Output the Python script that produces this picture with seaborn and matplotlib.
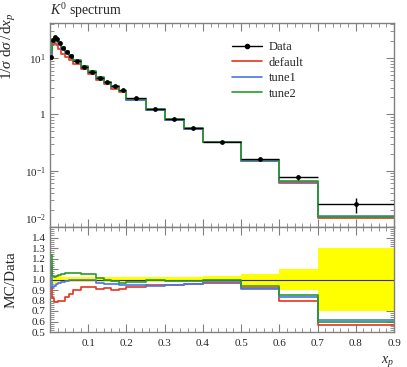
import numpy as np
import pandas as pd
import matplotlib
matplotlib.use("Agg")
import matplotlib.pyplot as plt
from matplotlib.ticker import MultipleLocator, FixedLocator, FuncFormatter, LogLocator, NullFormatter
from matplotlib.lines import Line2D
import seaborn as sns

# ---------------- data ----------------
bin_edges = [0.0, 0.005, 0.01, 0.015, 0.02, 0.03, 0.04, 0.05, 0.06, 0.08, 0.1, 0.12,
             0.14, 0.16, 0.18, 0.2, 0.25, 0.3, 0.35, 0.4, 0.5, 0.6, 0.7, 0.9]
data_vals = [10.5, 21.0, 23.5, 22.0, 18.5, 15.0, 12.6, 10.8, 8.9, 7.0, 5.6, 4.5,
             3.8, 3.2, 2.72, 1.92, 1.26, 0.84, 0.57, 0.33, 0.162, 0.077, 0.0254]
data_errs = [0.53, 0.84, 0.82, 0.66, 0.56, 0.38, 0.32, 0.27, 0.22, 0.175, 0.14, 0.09,
             0.076, 0.064, 0.054, 0.038, 0.025, 0.018, 0.014, 0.011, 0.0089, 0.0077, 0.0076]
default_vals = [9.77, 17.22, 18.57, 17.38, 14.8, 12.0, 10.46, 9.29, 8.01, 6.51, 5.21, 4.10,
                3.50, 2.88, 2.48, 1.79, 1.20, 0.80, 0.547, 0.320, 0.149, 0.0616, 0.01448]
tune1_vals = [11.76, 19.53, 22.09, 21.12, 17.95, 14.7, 12.47, 10.8, 8.9, 7.0, 5.6, 4.37,
              3.65, 3.07, 2.58, 1.82, 1.18, 0.80, 0.547, 0.323, 0.147, 0.0639, 0.0155]
tune2_vals = [12.92, 21.63, 23.97, 22.66, 19.24, 15.75, 13.36, 11.45, 9.43, 7.35, 5.88, 4.55,
              3.80, 3.14, 2.64, 1.88, 1.25, 0.83, 0.564, 0.327, 0.152, 0.0655, 0.0152]
series_names = ["default", "tune1", "tune2"]
series_colors = ["#e8341f", "#4676ee", "#2a9a2a"]

title_text = r"$K^0$ spectrum"
ylabel_top = r"$1/\sigma\ \mathrm{d}\sigma\,/\,\mathrm{d}x_p$"
ylabel_bot = "MC/Data"
xlabel_text = r"$x_p$"

# ---------------- style ----------------
sns.set_style("ticks")
plt.rcParams["font.family"] = ["Liberation Serif", "DejaVu Serif"]
plt.rcParams["mathtext.fontset"] = "custom"
plt.rcParams["mathtext.rm"] = "Liberation Serif"
plt.rcParams["mathtext.it"] = "Liberation Serif:italic"
plt.rcParams["mathtext.bf"] = "Liberation Serif:bold"

edges = np.array(bin_edges)
centers = 0.5 * (edges[:-1] + edges[1:])
halfw = 0.5 * (edges[1:] - edges[:-1])
data = np.array(data_vals)
derr = np.array(data_errs)
mcs = [np.array(default_vals), np.array(tune1_vals), np.array(tune2_vals)]

def stairs_frame(vals):
    return pd.DataFrame({"x": edges, "y": np.append(vals, vals[-1])})

W, H = 407, 367
fig = plt.figure(figsize=(W / 100, H / 100), dpi=100)
L, R = 50 / W, 394 / W
ax1 = fig.add_axes([L, 1 - 227 / H, R - L, (227 - 23) / H])
ax2 = fig.add_axes([L, 1 - 332 / H, R - L, (332 - 227) / H], sharex=ax1)

frame_col = "#808080"
for ax in (ax1, ax2):
    for s in ax.spines.values():
        s.set_color(frame_col)
        s.set_linewidth(1.0)
        s.set_visible(True)
    ax.tick_params(which="both", direction="in", top=True, right=True, color=frame_col,
                   labelsize=8, pad=3)
    ax.tick_params(which="major", length=6, width=0.8)
    ax.tick_params(which="minor", length=3, width=0.6)

# ---------------- upper panel ----------------
for vals, name, col in zip(mcs, series_names, series_colors):
    sns.lineplot(data=stairs_frame(vals), x="x", y="y", drawstyle="steps-post",
                 color=col, lw=1.2, ax=ax1, estimator=None, sort=False, legend=False)
ax1.errorbar(centers, data, xerr=halfw, yerr=derr, fmt="none", ecolor="black",
             elinewidth=1.0, capsize=0, zorder=5)
sns.scatterplot(x=centers, y=data, color="black", s=12, edgecolor="black",
                linewidth=0, ax=ax1, zorder=6, legend=False)
ax1.set_yscale("log")
ax1.set_xlim(0.0, 0.9)
ax1.set_ylim(0.01, 42)
ax1.yaxis.set_major_locator(FixedLocator([0.01, 0.1, 1, 10]))
ax1.yaxis.set_minor_locator(LogLocator(base=10, subs=np.arange(2, 10), numticks=20))
ax1.yaxis.set_minor_formatter(NullFormatter())

def logfmt(v, pos):
    e = int(round(np.log10(v)))
    if e == 0:
        return "1"
    return r"$10^{%d}$" % e
ax1.yaxis.set_major_formatter(FuncFormatter(logfmt))
ax1.tick_params(axis="x", labelbottom=False)
ax1.set_xlabel("")
ax1.set_ylabel("")
fig.text(18 / W, 1 - 13 / H, ylabel_top, rotation=90, rotation_mode="anchor",
         ha="right", va="bottom", fontsize=11)
ax1.set_title(title_text, loc="left", fontsize=10, pad=6)

handles = [Line2D([], [], color="black", marker="o", ms=3, lw=1.0)]
handles += [Line2D([], [], color=c, lw=1.2) for c in series_colors]
ax1.legend(handles, ["Data"] + series_names, loc="upper left",
           bbox_to_anchor=(0.515, 0.935), frameon=False, fontsize=9,
           handlelength=2.4, handletextpad=0.5, labelspacing=0.28, borderaxespad=0)

# ---------------- ratio panel ----------------
rel = derr / data
ax2.fill_between(edges, np.append(1 - rel, (1 - rel)[-1]), np.append(1 + rel, (1 + rel)[-1]),
                 step="post", color="#ffff00", lw=0, zorder=1)
sns.lineplot(data=stairs_frame(data / data), x="x", y="y", drawstyle="steps-post",
             color="#333333", lw=0.8, ax=ax2, estimator=None, sort=False, legend=False)
for vals, col in zip(mcs, series_colors):
    sns.lineplot(data=stairs_frame(vals / data), x="x", y="y", drawstyle="steps-post",
                 color=col, lw=1.2, ax=ax2, estimator=None, sort=False, legend=False)
ax2.set_ylim(0.5, 1.5)
ax2.yaxis.set_major_locator(FixedLocator(np.round(np.arange(0.5, 1.41, 0.1), 2)))
ax2.yaxis.set_minor_locator(MultipleLocator(0.02))
ax2.yaxis.set_major_formatter(FuncFormatter(lambda v, p: "%.1f" % v))
ax2.xaxis.set_major_locator(FixedLocator(np.round(np.arange(0.1, 0.91, 0.1), 2)))
ax2.xaxis.set_minor_locator(MultipleLocator(0.02))
ax2.xaxis.set_major_formatter(FuncFormatter(lambda v, p: "%.1f" % v))
ax2.set_xlim(0.0, 0.9)
ax2.set_xlabel(xlabel_text, fontsize=10, loc="right")
ax2.set_ylabel(ylabel_bot, fontsize=11)
ax2.yaxis.set_label_coords(-0.095, 0.5)
ax2.tick_params(axis="x", pad=5)

fig.canvas.draw()
for lab in ax1.get_yticklabels():
    if lab.get_text() == r"$10^{-2}$":
        lab.set_va("bottom")

fig.savefig("out.png", dpi=100)
